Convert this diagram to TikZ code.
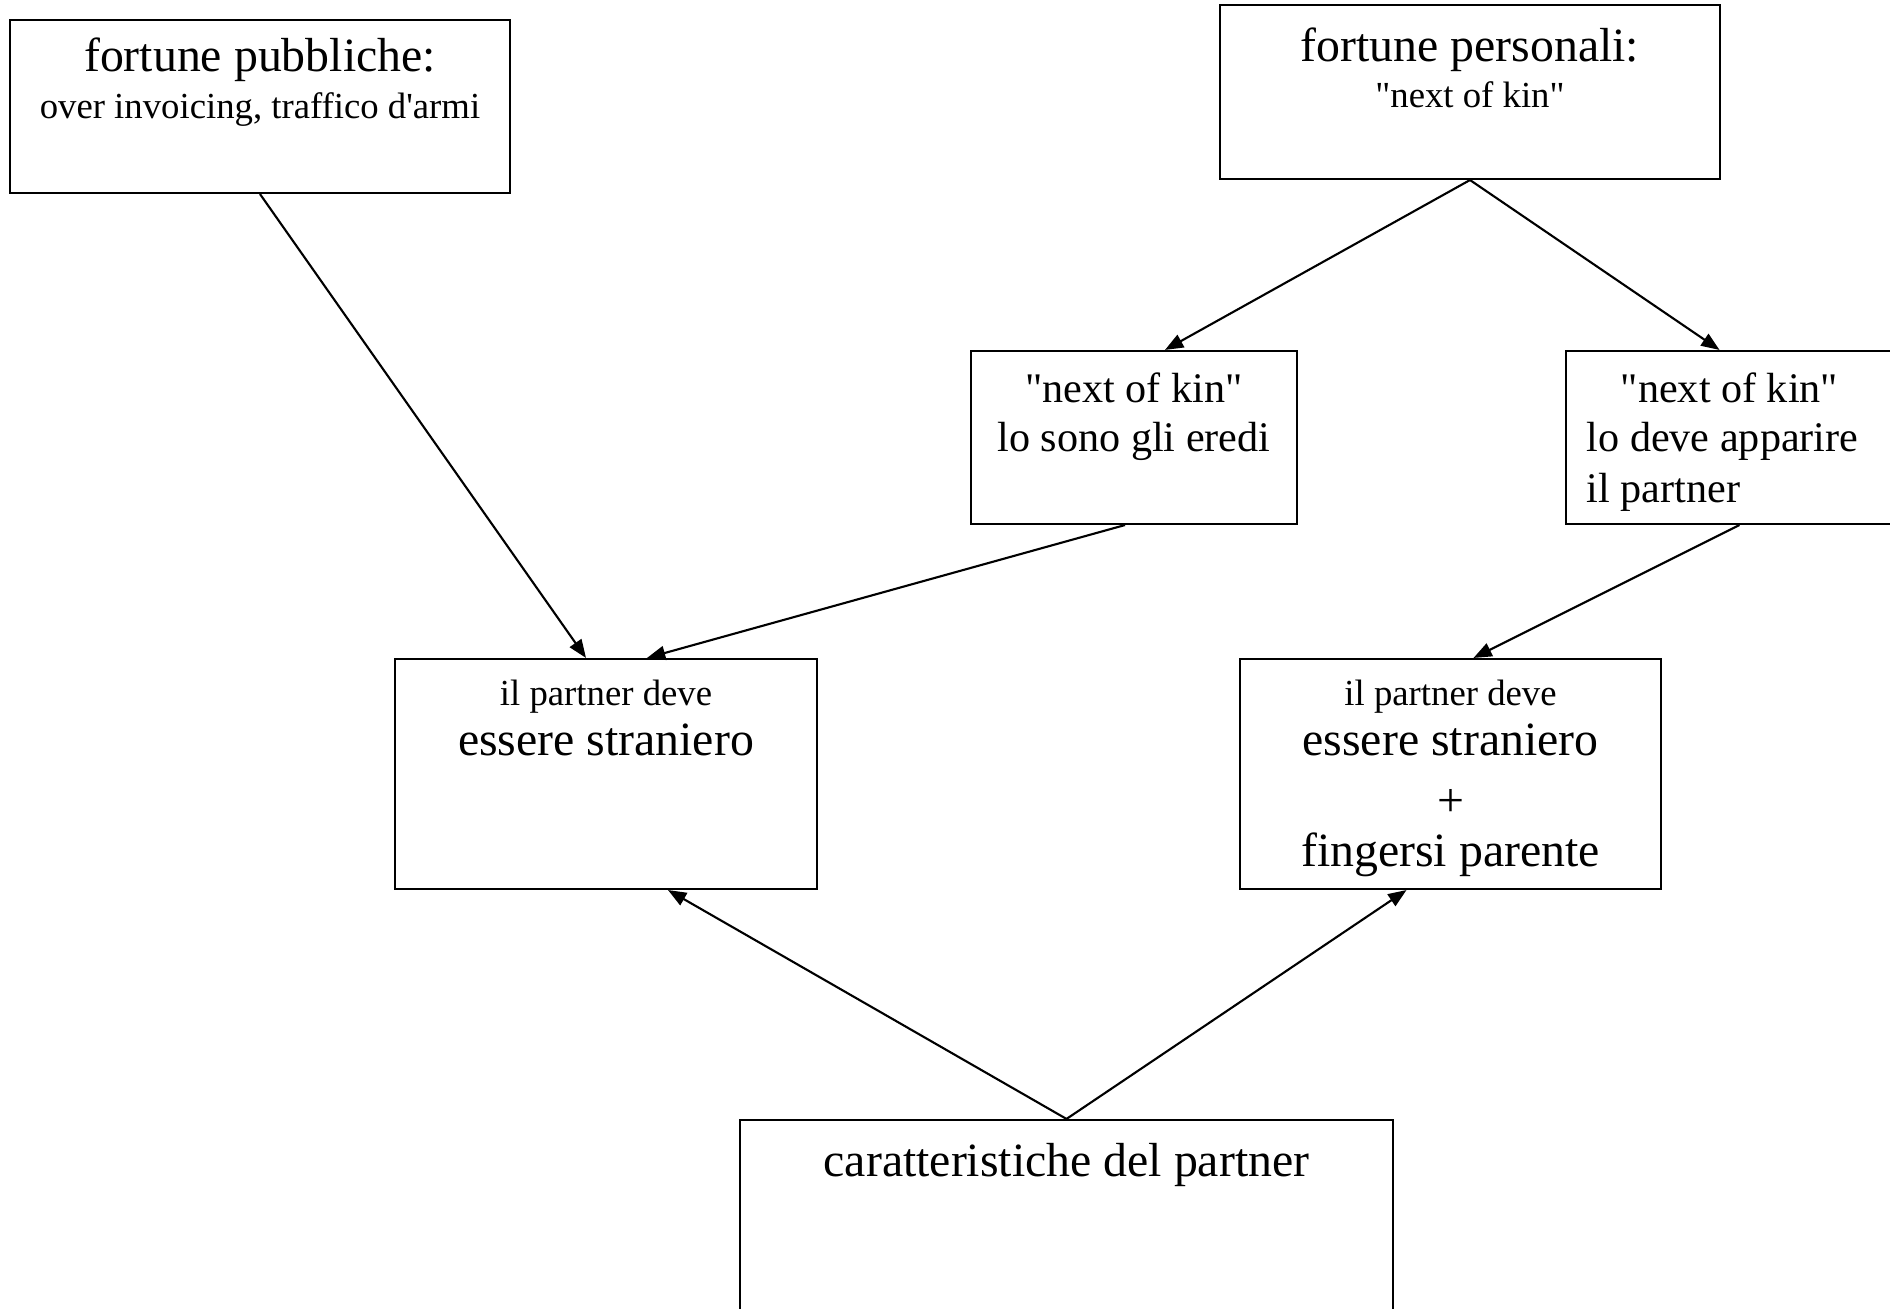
\documentclass[tikz,border=0pt]{standalone}
\usepackage{fontspec}
\setmainfont{Liberation Serif}[Ligatures=TeXOff]
\usetikzlibrary{arrows.meta}

\tikzset{
  boxnode/.style={draw, line width=0.6pt, rectangle, inner sep=0pt},
  bigtxt/.style={font=\fontsize{13.6}{16}\selectfont, anchor=base, inner sep=0pt},
  midtxt/.style={font=\fontsize{12}{14}\selectfont, anchor=base, inner sep=0pt},
  smalltxt/.style={font=\fontsize{10.45}{12.5}\selectfont, anchor=base, inner sep=0pt},
  conn/.style={line width=0.6pt, -{Triangle[length=5.2pt,width=4pt]}}
}

\begin{document}
\begin{tikzpicture}
\useasboundingbox (0,0) rectangle (18.9,-13.09);

% riquadri
\node[boxnode, minimum width=5cm, minimum height=1.73cm] (pub) at (2.60,-1.065) {};
\node[boxnode, minimum width=5cm, minimum height=1.74cm] (pers) at (14.70,-0.92) {};
\node[boxnode, minimum width=3.26cm, minimum height=1.73cm] (eredi) at (11.34,-4.375) {};
\node[boxnode, minimum width=3.27cm, minimum height=1.73cm] (app) at (17.295,-4.375) {};
\node[boxnode, minimum width=4.22cm, minimum height=2.30cm] (str1) at (6.06,-7.74) {};
\node[boxnode, minimum width=4.21cm, minimum height=2.30cm] (str2) at (14.505,-7.74) {};
\node[boxnode, minimum width=6.53cm, minimum height=2.60cm] (car) at (10.665,-12.50) {};

% testi
\node[bigtxt] (pubA) at ([yshift=-0.53cm]pub.north) {fortune pubbliche:};
\node[smalltxt] (pubB) at ([yshift=-1.00cm]pub.north) {over invoicing, traffico d'armi};
\node[bigtxt] (persA) at ([yshift=-0.58cm]pers.north) {fortune personali:};
\node[smalltxt] (persB) at ([yshift=-1.04cm]pers.north) {"next of kin"};
\node[midtxt] (erediA) at ([yshift=-0.53cm]eredi.north) {"next of kin"};
\node[midtxt] (erediB) at ([yshift=-1.02cm]eredi.north) {lo sono gli eredi};
\node[midtxt] (appA) at ([yshift=-0.53cm]app.north) {"next of kin"};
\node[midtxt, anchor=base west] (appB) at ([xshift=0.21cm,yshift=-1.02cm]app.north west) {lo deve apparire};
\node[midtxt, anchor=base west] (appC) at ([xshift=0.21cm,yshift=-1.53cm]app.north west) {il partner};
\node[smalltxt] (str1A) at ([yshift=-0.48cm]str1.north) {il partner deve};
\node[bigtxt] (str1B) at ([yshift=-0.98cm]str1.north) {essere straniero};
\node[smalltxt] (str2A) at ([yshift=-0.48cm]str2.north) {il partner deve};
\node[bigtxt] (str2B) at ([yshift=-0.98cm]str2.north) {essere straniero};
\node[bigtxt] (str2C) at ([yshift=-1.59cm]str2.north) {+};
\node[bigtxt] (str2D) at ([yshift=-2.09cm]str2.north) {fingersi parente};
\node[bigtxt] (carA) at ([yshift=-0.58cm]car.north) {caratteristiche del partner};

% frecce
\draw[conn] (pub.south) -- ([xshift=-0.20cm]str1.north);
\draw[conn] ([xshift=-0.09cm]eredi.south) -- ([xshift=0.41cm]str1.north);
\draw[conn] (pers.south) -- ([xshift=0.31cm]eredi.north);
\draw[conn] (pers.south) -- ([xshift=-0.10cm]app.north);
\draw[conn] ([xshift=0.10cm]app.south) -- ([xshift=0.23cm]str2.north);
\draw[conn] (car.north) -- ([xshift=0.62cm]str1.south);
\draw[conn] (car.north) -- ([xshift=-0.44cm]str2.south);
\end{tikzpicture}
\end{document}
